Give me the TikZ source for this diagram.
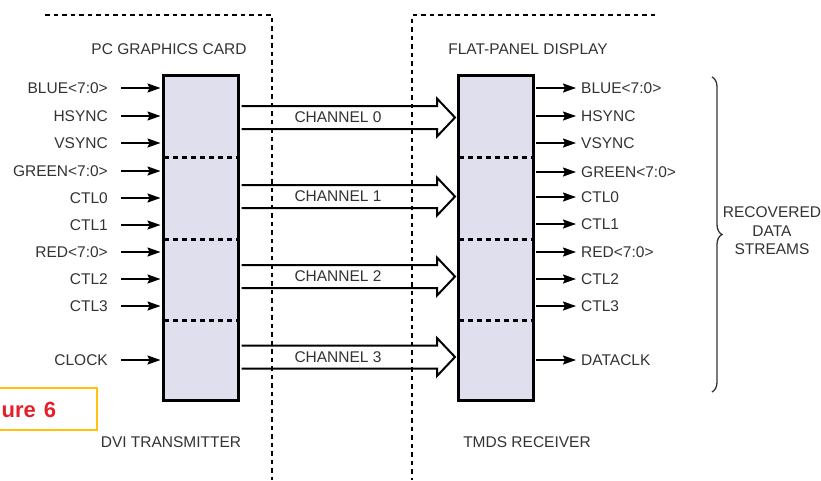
\documentclass[tikz,border=0pt]{standalone}
\usepackage{fontspec}
\setmainfont{Liberation Sans}
\usetikzlibrary{arrows.meta,decorations.pathreplacing}
\definecolor{boxfill}{HTML}{DFDFEE}
\definecolor{txtgray}{HTML}{333333}
\definecolor{figred}{HTML}{E3202A}
\definecolor{figyellow}{HTML}{FFC20E}
\tikzset{
  lbl/.style={text=txtgray, font=\fontsize{15.5}{17}\selectfont, inner sep=0pt},
  chipbox/.style={draw=black, line width=3pt, fill=boxfill, minimum width=75pt, minimum height=325pt, inner sep=0pt},
  sigarrow/.style={line width=1.6pt, -{Stealth[length=13pt,width=9pt,inset=2pt]}},
  framedash/.style={line width=2pt, dash pattern=on 4.5pt off 4pt},
  sepdash/.style={line width=3pt, dash pattern=on 5pt off 4pt},
  chan/.style={line width=2pt, line join=miter},
}
\begin{document}
\begin{tikzpicture}[x=1pt,y=-1pt]
\useasboundingbox (0,0) rectangle (821,480);

% frames
\coordinate (lf1) at (45,15);
\coordinate (lf2) at (272,15);
\coordinate (lf3) at (272,480);
\coordinate (rf1) at (655,15);
\coordinate (rf2) at (412,15);
\coordinate (rf3) at (412,480);
\draw[framedash] (lf1) -- (lf2) -- (lf3);
\draw[framedash] (rf1) -- (rf2) -- (rf3);

% boxes
\node[chipbox] (tx) at (201,237.5) {};
\node[chipbox] (rx) at (495.5,237.5) {};
\foreach \yy in {157,239,320}{
  \draw[sepdash] ([xshift=2pt]tx.west |- 0,\yy) -- ([xshift=-2pt]tx.east |- 0,\yy);
  \draw[sepdash] ([xshift=2pt]rx.west |- 0,\yy) -- ([xshift=-2pt]rx.east |- 0,\yy);
}

% titles
\node[lbl] (t1) at (169,49) {PC GRAPHICS CARD};
\node[lbl] (t2) at (528,49) {FLAT-PANEL DISPLAY};
\node[lbl] (t3) at (171,442) {DVI TRANSMITTER};
\node[lbl] (t4) at (527,442) {TMDS RECEIVER};

% inputs
\foreach \name/\txt/\yy in {i1/BLUE<7:0>/88, i2/HSYNC/116, i3/VSYNC/143, i4/GREEN<7:0>/171, i5/CTL0/198, i6/CTL1/225, i7/RED<7:0>/252, i8/CTL2/279, i9/CTL3/306, i10/CLOCK/360}{
  \node[lbl, anchor=east] (\name) at (108,\yy) {\txt};
  \draw[sigarrow] ([xshift=13pt]\name.east) -- ([xshift=-1.5pt]\name.east -| tx.west);
}

% outputs
\foreach \name/\txt/\yy in {o1/BLUE<7:0>/88, o2/HSYNC/116, o3/VSYNC/143, o4/GREEN<7:0>/172, o5/CTL0/197, o6/CTL1/224, o7/RED<7:0>/252, o8/CTL2/279, o9/CTL3/306, o10/DATACLK/360}{
  \node[lbl, anchor=west] (\name) at (581,\yy) {\txt};
  \draw[sigarrow] ([xshift=1.5pt]\name.west -| rx.east) -- ([xshift=-5pt]\name.west);
}

% channels
\foreach \name/\txt/\yy in {c0/CHANNEL 0/117.5, c1/CHANNEL 1/196.5, c2/CHANNEL 2/276.5, c3/CHANNEL 3/357}{
  \node[lbl] (\name) at (338,\yy) {\txt};
  \draw[chan] ([xshift=1.5pt]tx.east |- 0,\yy-11.5) -- (437,\yy-11.5) -- (437,\yy-19)
     -- ([xshift=-1.5pt]rx.west |- 0,\yy) -- (437,\yy+19) -- (437,\yy+11.5)
     -- ([xshift=1.5pt]tx.east |- 0,\yy+11.5);
}

% brace
\coordinate (b1) at (712,77);
\coordinate (b2) at (712,392);
\draw[line width=1.3pt, black!80, decorate, decoration={brace, amplitude=10pt}] (b1) -- (b2);
\node[lbl, align=center, font=\fontsize{15.5}{18.5}\selectfont] (rec) at (772,231) {RECOVERED\\DATA\\STREAMS};

% figure label
\node[draw=figyellow, line width=2pt, minimum width=110pt, minimum height=42pt, inner sep=0pt] (figbox) at (42,409) {};
\node[anchor=west, text=figred, font=\bfseries\fontsize{22}{22}\selectfont, inner sep=0pt] (figtxt) at (1.5,410) {ure\hspace{8pt}6};
\end{tikzpicture}
\end{document}
